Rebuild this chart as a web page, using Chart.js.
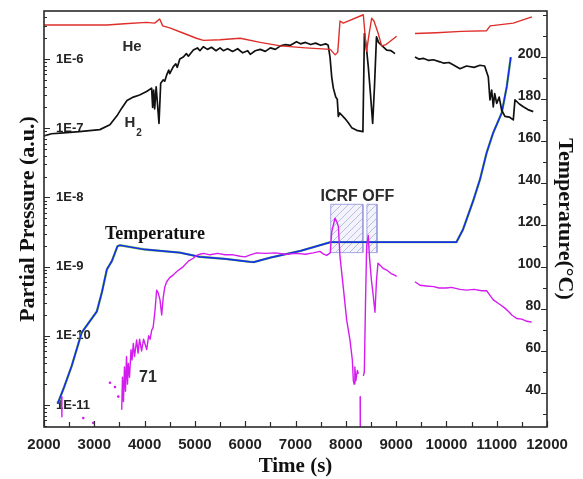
<!DOCTYPE html>
<html>
<head>
<meta charset="utf-8">
<script src="https://cdn.jsdelivr.net/npm/chart.js@4.4.1/dist/chart.umd.min.js"></script>
<style>
  html, body { margin: 0; padding: 0; background: #fff; }
  canvas { display: block; }
</style>
</head>
<body>
<canvas id="chart" width="583" height="479"></canvas>
<script>
// values; time in s, pressure in a.u., null = gap in the record
const heTime = [2000, 2500, 3000, 3250, 3600, 4040, 4200, 4300, 4360, 4500,
  4750, 5030, 5170, 5500, 5900, 6300, 6700, 7200, 7690, 7790,
  7840, 7885, 7950, 8348, 8395, 8415, 8450, 8514, 8560, 8640,
  8713, 8800, 9011, 9200, 9375, 9800, 10300, 10800, 10870, 11330, 11700];
const hePressure = [3.1e-6, 3.1e-6, 3.1e-6, 3.1e-6, 3.24e-6, 3.39e-6, 3.31e-6, 3.8e-6, 3.02e-6, 2.82e-6,
  2.4e-6, 2.0e-6, 1.86e-6, 1.9e-6, 2.0e-6, 1.74e-6, 1.55e-6, 1.45e-6, 1.38e-6, 1.15e-6,
  1.26e-6, 3.55e-6, 3.31e-6, 4.37e-6, 1.78e-6, 1.29e-6, 2.0e-6, 3.89e-6, 3.55e-6, 2.4e-6,
  1.55e-6, 1.62e-6, 2.14e-6, null, 2.34e-6, 2.4e-6, 2.51e-6, 2.57e-6, 3.02e-6, 3.31e-6, 4.07e-6];

const h2Time = [
  2000, 2150, 2320, 2700, 3110, 3310, 3450, 3545, 3650, 3776,
  3900, 4040, 4140, 4160, 4180, 4200, 4230, 4286, 4320, 4372,
  4400, 4439, 4480, 4500, 4571, 4620, 4650, 4700, 4770, 4830,
  4870, 4969, 5050, 5100, 5167, 5250, 5330, 5420, 5500, 5565,
  5650, 5750, 5850, 5950, 6050, 6100, 6200, 6300, 6400, 6500,
  6600, 6700, 6800, 6900, 7020, 7100, 7200, 7300, 7400, 7500,
  7600, 7650, 7686, 7720, 7752, 7800, 7830, 7852, 7880, 7984,
  8050, 8117, 8216, 8340, 8370, 8414, 8447, 8490, 8534, 8570,
  8610, 8650, 8713, 8813, 8900, 8978, 9200, 9375, 9450, 9550,
  9650, 9740, 9872, 9950, 10050, 10150, 10270, 10400, 10550, 10667,
  10760, 10833, 10866, 10900, 10932, 10960, 11000, 11050, 11099, 11164,
  11250, 11330, 11363, 11450, 11529, 11620, 11727];
const h2Pressure = [
  7.76e-8, 8.32e-8, 8.51e-8, 8.91e-8, 9.55e-8, 1.12e-7, 1.51e-7, 1.95e-7, 2.51e-7, 2.82e-7,
  3.02e-7, 3.39e-7, 3.8e-7, 2.0e-7, 3.55e-7, 1.9e-7, 3.98e-7, 1.17e-7, 4.47e-7, 5.01e-7,
  4.79e-7, 5.89e-7, 6.92e-7, 6.17e-7, 7.76e-7, 8.51e-7, 7.59e-7, 1.0e-6, 1.07e-6, 1.2e-6,
  1.1e-6, 1.35e-6, 1.45e-6, 1.32e-6, 1.51e-6, 1.38e-6, 1.48e-6, 1.32e-6, 1.45e-6, 1.32e-6,
  1.41e-6, 1.29e-6, 1.41e-6, 1.23e-6, 1.32e-6, 1.17e-6, 1.32e-6, 1.38e-6, 1.29e-6, 1.45e-6,
  1.38e-6, 1.55e-6, 1.62e-6, 1.58e-6, 1.78e-6, 1.66e-6, 1.74e-6, 1.62e-6, 1.7e-6, 1.58e-6,
  1.66e-6, 1.58e-6, 1.07e-6, 5.5e-7, 3.8e-7, 2.82e-7, 2.63e-7, 1.48e-7, 1.66e-7, 1.38e-7,
  1.2e-7, 1.02e-7, 9.33e-8, 8.91e-8, 2.34e-6, 1.35e-6, 7.76e-7, 3.16e-7, 1.17e-7, 3.98e-7,
  2.09e-6, 1.74e-6, 1.58e-6, 1.35e-6, 1.32e-6, 1.2e-6, null, 1.07e-6, 1.0e-6, 1.02e-6,
  9.55e-7, 9.77e-7, 9.12e-7, 8.71e-7, 8.91e-7, 8.13e-7, 7.24e-7, 7.94e-7, 7.59e-7, 8.13e-7,
  7.94e-7, 5.5e-7, 2.57e-7, 3.55e-7, 2.04e-7, 3.16e-7, 2.29e-7, 2.82e-7, 1.82e-7, 1.48e-7,
  1.45e-7, 1.32e-7, 2.57e-7, 2.24e-7, 2.04e-7, 1.86e-7, 1.74e-7];

const m71Time = [
  2350, 2356, 2360, 3545, 3560, 3580, 3600, 3620, 3640, 3660,
  3676, 3700, 3730, 3750, 3776, 3800, 3842, 3870, 3900, 3940,
  3980, 4042, 4080, 4110, 4141, 4170, 4207, 4240, 4270, 4306,
  4340, 4370, 4400, 4439, 4500, 4571, 4640, 4770, 4870, 4969,
  5035, 5101, 5170, 5300, 5450, 5600, 5763, 5900, 6000, 6100,
  6228, 6400, 6600, 6800, 7023, 7200, 7350, 7487, 7560, 7620,
  7690, 7720, 7785, 7820, 7852, 7885, 7950, 8017, 8083, 8130,
  8150, 8165, 8180, 8200, 8230, 8250, 8270, 8285, 8288, 8300,
  8350, 8368, 8390, 8414, 8447, 8470, 8510, 8547, 8580, 8610,
  8640, 8680, 8750, 8813, 8900, 8960, 9011, 9200, 9375, 9475,
  9600, 9750, 9850, 10005, 10100, 10270, 10400, 10550, 10700, 10800,
  10870, 10932, 11050, 11164, 11250, 11300, 11397, 11500, 11600, 11695];
const m71Pressure = [
  1.32e-11, 6.76e-12, null, 8.5e-12, 2.51e-11, 1.12e-11, 3.55e-11, 1.58e-11, 5.01e-11, 2.0e-11,
  3.98e-11, 2.51e-11, 6.31e-11, 4.47e-11, 7.76e-11, 5.01e-11, 8.71e-11, 5.62e-11, 8.91e-11, 6.03e-11,
  8.91e-11, 6.31e-11, 1.0e-10, 8.91e-11, 1.2e-10, 1.32e-10, 2.34e-10, 4.57e-10, 4.17e-10, 3.31e-10,
  2.0e-10, 3.55e-10, 5.01e-10, 6.03e-10, 6.92e-10, 7.59e-10, 8.51e-10, 1.0e-9, 1.2e-9, 1.32e-9,
  1.45e-9, 1.51e-9, 1.55e-9, 1.48e-9, 1.55e-9, 1.48e-9, 1.48e-9, 1.41e-9, 1.38e-9, 1.48e-9,
  1.58e-9, 1.55e-9, 1.58e-9, 1.51e-9, 1.55e-9, 1.51e-9, 1.58e-9, 1.66e-9, 1.51e-9, 1.45e-9,
  1.58e-9, 3.16e-9, 5.01e-9, 4.47e-9, 3.8e-9, 1.38e-9, 5.01e-10, 1.7e-10, 8.71e-11, 4.47e-11,
  2.24e-11, 2.0e-11, 3.55e-11, 2.24e-11, 3.16e-11, 2.82e-11, null, 1.32e-11, 4.47e-12, null,
  2.63e-11, 3.02e-11, 2.51e-10, 1.95e-9, 2.82e-9, 1.38e-9, 6.31e-10, 3.72e-10, 2.19e-10, 6.31e-10,
  1.12e-9, 1.05e-9, 9.33e-10, 8.91e-10, 7.94e-10, 7.59e-10, 7.24e-10, null, 6.03e-10, 5.37e-10,
  5.25e-10, 5.13e-10, 4.9e-10, 4.9e-10, 5.01e-10, 4.68e-10, 4.57e-10, 4.68e-10, 4.47e-10, 4.47e-10,
  3.8e-10, 3.31e-10, 2.88e-10, 2.51e-10, 2.19e-10, 2.0e-10, 1.78e-10, 1.74e-10, 1.62e-10, 1.58e-10];
// stray single readings of mass 71
const m71DotTime = [2781, 2980, 3312, 3411, 3477];
const m71DotPressure = [6.46e-12, 5.5e-12, 2.09e-11, 1.82e-11, 1.32e-11];

// temperature, right axis (°C)
const tempTime = [2270, 2400, 2550, 2650, 2750, 2900, 3050, 3150, 3250, 3350,
  3460, 3510, 4000, 4700, 5100, 5600, 6100, 6170, 6500, 7100,
  7700, 8500, 10200, 10330, 10530, 10670, 10800, 10930, 11100, 11200, 11280];
const tempValue = [35, 43, 53, 61, 69, 74, 79, 88, 99, 103,
  110, 110.5, 108.5, 107, 105, 104, 102.6, 102.5, 104.6, 107.8,
  112, 112, 112, 118, 131.5, 142, 154.5, 164, 173.5, 186, 200];

// ICRF off periods (s) and the band they are marked over (°C)
const icrfStart = [7700, 8420];
const icrfEnd = [8340, 8620];
const icrfBand = [107, 130];

// axis ticks
const timeTicks = [2000, 3000, 4000, 5000, 6000, 7000, 8000, 9000, 10000, 11000, 12000];
const timeMinor = [2500, 3500, 4500, 5500, 6500, 7500, 8500, 9500, 10500, 11500];
const pressureTicks = [1e-11, 1e-10, 1e-9, 1e-8, 1e-7, 1e-6];
const pressureLabels = ['1E-11', '1E-10', '1E-9', '1E-8', '1E-7', '1E-6'];
const tempTicks = [40, 60, 80, 100, 120, 140, 160, 180, 200];
const tempMinor = [30, 50, 70, 90, 110, 130, 150, 170, 190, 210, 220];

const sans = '"Liberation Sans", Arial, sans-serif';
const serif = '"Liberation Serif", "Times New Roman", serif';

function points(xs, ys) {
  return xs.map((x, i) => ({x, y: ys[i]}));
}

function hatch() {
  const c = document.createElement('canvas');
  c.width = 7; c.height = 7;
  const g = c.getContext('2d');
  g.fillStyle = 'rgba(215,215,245,0.3)';
  g.fillRect(0, 0, 7, 7);
  g.strokeStyle = 'rgba(150,150,210,0.6)';
  g.lineWidth = 1;
  g.beginPath();
  g.moveTo(0, 7); g.lineTo(7, 0);
  g.moveTo(-1, 1); g.lineTo(1, -1);
  g.moveTo(6, 8); g.lineTo(8, 6);
  g.stroke();
  return g.createPattern(c, 'repeat');
}

function curve(data, color, width, axis) {
  return {
    data, yAxisID: axis, showLine: true, borderColor: color, borderWidth: width,
    pointRadius: 0, tension: 0, fill: false, borderJoinStyle: 'round'
  };
}

function icrfBox(i, pattern) {
  const xs = [icrfStart[i], icrfStart[i], icrfEnd[i], icrfEnd[i], icrfStart[i]];
  const ys = [icrfBand[0], icrfBand[1], icrfBand[1], icrfBand[0], icrfBand[0]];
  return {
    data: points(xs, ys), yAxisID: 'yT', showLine: true, pointRadius: 0, tension: 0,
    borderColor: 'rgba(150,150,220,0.85)', borderWidth: 1,
    backgroundColor: pattern, fill: 'shape'
  };
}

function setTicks(scale, major, labels, minor) {
  const list = major.map((v, i) => ({value: v, txt: labels[i]}))
    .concat(minor.map(v => ({value: v, txt: ''})));
  list.sort((a, b) => a.value - b.value);
  scale.ticks = list;
}

function pressureMinor(min, max) {
  const out = [];
  for (let e = -12; e <= -6; e++) {
    for (let m = 2; m <= 9; m++) {
      const v = m * Math.pow(10, e);
      if (v > min && v < max) out.push(v);
    }
  }
  return out;
}

// fixed box sizes, no extra edge padding from the labels
function fitTo(size) {
  return s => {
    if (s.isHorizontal()) s.height = size; else s.width = size;
    s.paddingTop = 0; s.paddingBottom = 0; s.paddingLeft = 0; s.paddingRight = 0;
  };
}

// inward tick marks and the frame round the plot
const axisMarks = {
  id: 'axisMarks',
  afterDatasetsDraw(chart) {
    const {ctx, chartArea: a, scales} = chart;
    ctx.save();
    ctx.strokeStyle = '#2a2a2a';
    ctx.lineWidth = 1.2;
    ctx.beginPath();
    scales.x.ticks.forEach(t => {
      const px = Math.round(scales.x.getPixelForValue(t.value)) + 0.5;
      ctx.moveTo(px, a.bottom);
      ctx.lineTo(px, a.bottom - (t.txt ? 6 : 5));
    });
    scales.y.ticks.forEach(t => {
      const py = Math.round(scales.y.getPixelForValue(t.value)) + 0.5;
      ctx.moveTo(a.left, py);
      ctx.lineTo(a.left + (t.txt ? 6 : 3), py);
    });
    scales.yT.ticks.forEach(t => {
      const py = Math.round(scales.yT.getPixelForValue(t.value)) + 0.5;
      ctx.moveTo(a.right, py);
      ctx.lineTo(a.right - (t.txt ? 6 : 4), py);
    });
    ctx.stroke();
    ctx.lineWidth = 1.6;
    ctx.strokeRect(a.left, a.top, a.right - a.left, a.bottom - a.top);
    ctx.restore();
  }
};

const notes = {
  id: 'notes',
  afterDatasetsDraw(chart) {
    const {ctx, scales: {x, y, yT}} = chart;
    ctx.save();
    ctx.fillStyle = '#2b2b2b';
    ctx.textAlign = 'center';
    ctx.textBaseline = 'middle';
    ctx.font = 'bold 15px ' + sans;
    ctx.fillText('He', x.getPixelForValue(3750), y.getPixelForValue(1.48e-6));
    const hx = x.getPixelForValue(3710), hy = y.getPixelForValue(1.19e-7);
    ctx.fillText('H', hx, hy);
    ctx.font = 'bold 10px ' + sans;
    ctx.fillText('2', hx + 9, hy + 10);
    ctx.font = 'bold 16px ' + sans;
    ctx.fillText('71', x.getPixelForValue(4067), y.getPixelForValue(2.5e-11));
    ctx.textBaseline = 'alphabetic';
    ctx.fillText('ICRF OFF', x.getPixelForValue(8230), yT.getPixelForValue(icrfBand[1]) - 3);
    ctx.fillStyle = '#111';
    ctx.textBaseline = 'middle';
    ctx.font = 'bold 18px ' + serif;
    ctx.fillText('Temperature', x.getPixelForValue(4207), yT.getPixelForValue(115.7));
    ctx.restore();
  }
};

const pattern = hatch();
const ctx = document.getElementById('chart').getContext('2d');

new Chart(ctx, {
  type: 'scatter',
  data: {
    datasets: [
      curve(points(heTime, hePressure), '#de2f2a', 1.4, 'y'),
      curve(points(h2Time, h2Pressure), '#111111', 1.7, 'y'),
      curve(points(m71Time, m71Pressure), '#d41cf0', 1.4, 'y'),
      {data: points(m71DotTime, m71DotPressure), yAxisID: 'y', showLine: false,
        pointRadius: 1.3, pointBorderWidth: 0, pointBackgroundColor: '#d41cf0'},
      curve(points(tempTime, tempValue), '#1530e6', 1.7, 'yT'),
      curve(points(tempTime, tempValue), '#8fd052', 2.4, 'yT'),
      icrfBox(0, pattern),
      icrfBox(1, pattern)
    ]
  },
  options: {
    responsive: false,
    animation: false,
    layout: {padding: {top: 11, left: 0, right: 0, bottom: 0}},
    plugins: {legend: {display: false}, tooltip: {enabled: false}},
    scales: {
      x: {
        type: 'linear', min: 2000, max: 12000, bounds: 'data',
        grid: {display: false, drawTicks: false},
        border: {display: false},
        afterBuildTicks: s => setTicks(s, timeTicks, timeTicks.map(String), timeMinor),
        afterFit: fitTo(52),
        ticks: {
          autoSkip: false, maxRotation: 0, padding: 9, color: '#222',
          font: {family: sans, size: 15, weight: 'bold'},
          callback: (v, i, ticks) => ticks[i].txt
        },
        title: {
          display: true, text: 'Time (s)', color: '#111', padding: {top: 0, bottom: 0},
          font: {family: serif, size: 21, weight: 'bold'}
        }
      },
      y: {
        type: 'logarithmic', position: 'left', min: 4.8e-12, max: 4.95e-6, bounds: 'data',
        grid: {display: false, drawTicks: false},
        border: {display: false},
        afterBuildTicks: s => setTicks(s, pressureTicks, pressureLabels, pressureMinor(s.min, s.max)),
        afterFit: fitTo(44),
        ticks: {
          autoSkip: false, mirror: true, padding: 12, color: '#222',
          font: {family: sans, size: 13, weight: 'bold'},
          callback: (v, i, ticks) => ticks[i].txt
        },
        title: {
          display: true, text: 'Partial Pressure (a.u.)', color: '#111', padding: {top: 15, bottom: 0},
          font: {family: serif, size: 22, weight: 'bold'}
        }
      },
      yT: {
        type: 'linear', position: 'right', min: 24, max: 222, bounds: 'data',
        grid: {display: false, drawTicks: false},
        border: {display: false},
        afterBuildTicks: s => setTicks(s, tempTicks, tempTicks.map(String), tempMinor),
        afterFit: fitTo(36),
        ticks: {
          autoSkip: false, mirror: true, padding: -6, labelOffset: -3, color: '#222',
          font: {family: sans, size: 14, weight: 'bold'},
          callback: (v, i, ticks) => ticks[i].txt
        },
        title: {
          display: true, text: 'Temperature(°C)', color: '#111', padding: {top: 5, bottom: 0},
          font: {family: serif, size: 22, weight: 'bold'}
        }
      }
    }
  },
  plugins: [axisMarks, notes]
});
</script>
</body>
</html>
